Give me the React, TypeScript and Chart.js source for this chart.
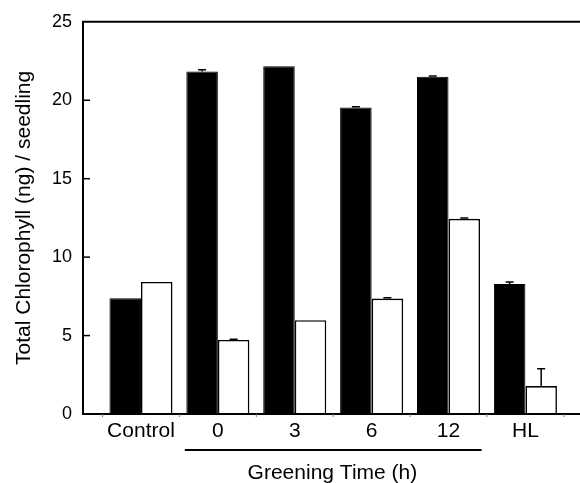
import React, { useEffect, useRef } from "react";
import { Chart, registerables } from "chart.js";

Chart.register(...registerables);

const categories = ["Control", "0", "3", "6", "12", "HL"];
const darkValues = [7.38, 21.83, 22.17, 19.54, 21.49, 8.29];
const lightValues = [8.42, 4.72, 5.98, 7.36, 12.44, 1.78];
const darkErrors = [0, 0.12, 0, 0.05, 0.06, 0.12];
const lightErrors = [0, 0.05, 0, 0.05, 0.05, 1.1];
const yTicks = [0, 5, 10, 15, 20, 25];
const groupLabel = "Greening Time (h)";
const yTitle = "Total Chlorophyll (ng) / seedling";

const FONT = "'Liberation Sans', Arial, Helvetica, sans-serif";

const decorPlugin = {
  id: "decor",
  afterDatasetsDraw(chart: any) {
    const { ctx, chartArea } = chart;
    const x = chart.scales.x;
    const y = chart.scales.y;
    ctx.save();
    ctx.strokeStyle = "#000";
    ctx.fillStyle = "#000";
    // error bars
    const metas = [chart.getDatasetMeta(0), chart.getDatasetMeta(1)];
    const errs = [darkErrors, lightErrors];
    const vals = [darkValues, lightValues];
    metas.forEach((meta: any, d: number) => {
      meta.data.forEach((bar: any, i: number) => {
        const e = errs[d][i];
        if (!e) return;
        const top = y.getPixelForValue(vals[d][i] + e);
        const base = y.getPixelForValue(vals[d][i]);
        ctx.lineWidth = 1.5;
        ctx.beginPath();
        ctx.moveTo(bar.x, base);
        ctx.lineTo(bar.x, top);
        ctx.moveTo(bar.x - 4, top);
        ctx.lineTo(bar.x + 4, top);
        ctx.stroke();
      });
    });
    // axes frame
    ctx.lineWidth = 2;
    ctx.beginPath();
    ctx.moveTo(chartArea.right, chartArea.top);
    ctx.lineTo(chartArea.left, chartArea.top);
    ctx.lineTo(chartArea.left, chartArea.bottom);
    ctx.lineTo(chartArea.right, chartArea.bottom);
    ctx.stroke();
    // inward y ticks
    ctx.lineWidth = 1.5;
    yTicks.forEach((t) => {
      if (t === 0 || t === 25) return;
      const py = y.getPixelForValue(t);
      ctx.beginPath();
      ctx.moveTo(chartArea.left, py);
      ctx.lineTo(chartArea.left + 7, py);
      ctx.stroke();
    });
    // small x ticks between groups
    ctx.lineWidth = 1;
    ctx.strokeStyle = "#777";
    for (let i = -0.5; i < categories.length; i += 1) {
      const px = x.getPixelForValue(i);
      ctx.beginPath();
      ctx.moveTo(px, chartArea.bottom);
      ctx.lineTo(px, chartArea.bottom + 3);
      ctx.stroke();
    }
    // greening group line and label
    ctx.strokeStyle = "#000";
    ctx.lineWidth = 2;
    const gy = chartArea.bottom + 36;
    ctx.beginPath();
    ctx.moveTo(x.getPixelForValue(0.57), gy);
    ctx.lineTo(x.getPixelForValue(4.43), gy);
    ctx.stroke();
    ctx.font = `21px ${FONT}`;
    ctx.textAlign = "center";
    ctx.textBaseline = "middle";
    ctx.fillText(groupLabel, x.getPixelForValue(2.49), gy + 23);
    ctx.restore();
  },
};

export default function App() {
  const ref = useRef<HTMLCanvasElement | null>(null);
  useEffect(() => {
    if (!ref.current) return;
    const idx = categories.map((_, i) => i);
    const chart = new Chart(ref.current, {
      type: "bar",
      data: {
        datasets: [
          {
            data: idx.map((i) => ({ x: i, y: darkValues[i] })),
            backgroundColor: "#000",
            borderColor: "#000",
            borderWidth: 1,
            categoryPercentage: 0.82,
            barPercentage: 1,
          },
          {
            data: idx.map((i) => ({ x: i, y: lightValues[i] })),
            backgroundColor: "#fff",
            borderColor: "#000",
            borderWidth: 1.6,
            categoryPercentage: 0.82,
            barPercentage: 1,
          },
        ] as any,
      },
      options: {
        responsive: false,
        animation: false,
        layout: { padding: { top: 20, left: 0, right: 0, bottom: 0 } },
        plugins: { legend: { display: false }, tooltip: { enabled: false } },
        scales: {
          x: {
            type: "linear",
            min: -0.754,
            max: 5.71,
            offset: false,
            grid: { display: false, drawTicks: false, offset: false },
            border: { display: false },
            afterBuildTicks: (s: any) => {
              s.ticks = idx.map((v) => ({ value: v }));
            },
            afterFit: (s: any) => {
              s.height = 69;
            },
            ticks: {
              autoSkip: false,
              maxRotation: 0,
              padding: 5,
              color: "#000",
              font: { family: FONT, size: 21 },
              callback: (v: any) => categories[Math.round(Number(v))] ?? "",
            },
          },
          y: {
            min: 0,
            max: 25,
            grid: { display: false, drawTicks: false },
            border: { display: false },
            afterBuildTicks: (s: any) => {
              s.ticks = yTicks.map((v) => ({ value: v }));
            },
            afterFit: (s: any) => {
              s.width = 83;
            },
            ticks: {
              padding: 11,
              color: "#000",
              font: { family: FONT, size: 18 },
            },
            title: {
              display: true,
              text: yTitle,
              color: "#000",
              font: { family: FONT, size: 21 },
              padding: { top: 12, bottom: 0 },
            },
          },
        },
      } as any,
      plugins: [decorPlugin],
    });
    return () => chart.destroy();
  }, []);
  return (
    <div style={{ position: "fixed", left: 0, top: 0, width: 580, height: 483, background: "#fff" }}>
      <canvas ref={ref} width={580} height={483} style={{ display: "block" }} />
    </div>
  );
}
